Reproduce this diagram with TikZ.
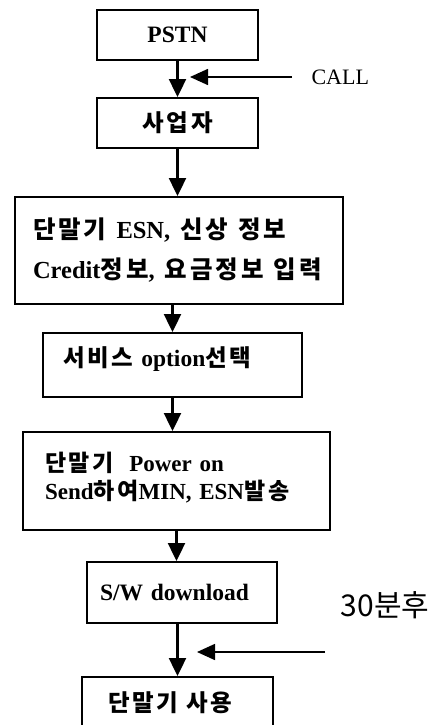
\documentclass[tikz,border=0pt]{standalone}
\usepackage{fontspec}
\setmainfont{Liberation Serif}[WordSpace=2]
\newfontfamily\kr{Noto Sans CJK KR}[LetterSpace=12]
\newfontfamily\krplain{Noto Sans CJK KR}
\usetikzlibrary{arrows.meta}
\newcommand{\hg}[1]{{\kr #1}}
\newcommand{\wsp}{\hspace{10pt}}
\tikzset{
  stepbox/.style={draw, line width=2pt, inner sep=0pt,
    font=\bfseries\fontsize{23.5}{26}\selectfont},
  flow/.style={line width=2.4pt, -{Triangle[length=18pt,width=17pt]}},
  side/.style={line width=1.6pt, -{Triangle[length=18pt,width=16pt]}},
}

\begin{document}
\begin{tikzpicture}[x=1pt,y=-1pt]
  \clip (0,0) rectangle (438,725);
  % steps
  \node[stepbox, minimum width=161pt, minimum height=50pt] (pstn) at (177.5,35) {PSTN};
  \node[stepbox, minimum width=161pt, minimum height=50pt] (biz) at (177.5,123) {\hg{사업자}};
  \node[stepbox, minimum width=328pt, minimum height=107pt, text width=292pt, align=left,
    font=\bfseries\fontsize{24.5}{40}\selectfont] (reg) at (179,250.5)
    {\hg{단말기}\wsp ESN,\wsp\hg{신상}\wsp\hg{정보}\\Credit\hg{정보},\wsp\hg{요금정보}\wsp\hg{입력}};
  \node[stepbox, minimum width=259pt, minimum height=64pt, text width=219pt, align=left,
    text depth=16pt] (opt) at (172.5,365)
    {\hg{서비스} option\hg{선택}};
  \node[stepbox, minimum width=307pt, minimum height=98pt, text width=263pt, align=left,
    font=\bfseries\fontsize{23}{28}\selectfont, text depth=38pt] (pw) at (176.5,481)
    {\hg{단말기}~~Power on\\Send\hg{하여}MIN, ESN\hg{발송}};
  \node[stepbox, minimum width=190pt, minimum height=61pt, text width=164pt, align=left] (sw) at (182,592.5)
    {S/W download};
  \node[stepbox, minimum width=191pt, minimum height=52pt, text width=139pt, align=left] (use) at (177.5,703)
    {\hg{단말기} \hg{사용}};
  % flow
  \draw[flow] (pstn.south) -- (biz.north);
  \draw[flow] (biz.south) -- (biz.south |- reg.north);
  \draw[flow] (opt.north |- reg.south) -- (opt.north);
  \draw[flow] (opt.south) -- (opt.south |- pw.north);
  \draw[flow] (pw.south) -- (pw.south |- sw.north);
  \draw[flow] (use.north |- sw.south) -- (use.north);
  % side inputs
  \node[anchor=west, font=\fontsize{22}{26}\selectfont] (call) at (308,77) {CALL};
  \coordinate (callhit) at (190,77);
  \draw[side, shorten <=16pt] (call.west) -- (callhit);
  \node[font=\krplain\fontsize{30}{34}\selectfont] (delay) at (385,605) {30분후};
  \coordinate (waitfrom) at (325,652);
  \coordinate (waithit) at (197,652);
  \draw[side] (waitfrom) -- (waithit);
\end{tikzpicture}
\end{document}
